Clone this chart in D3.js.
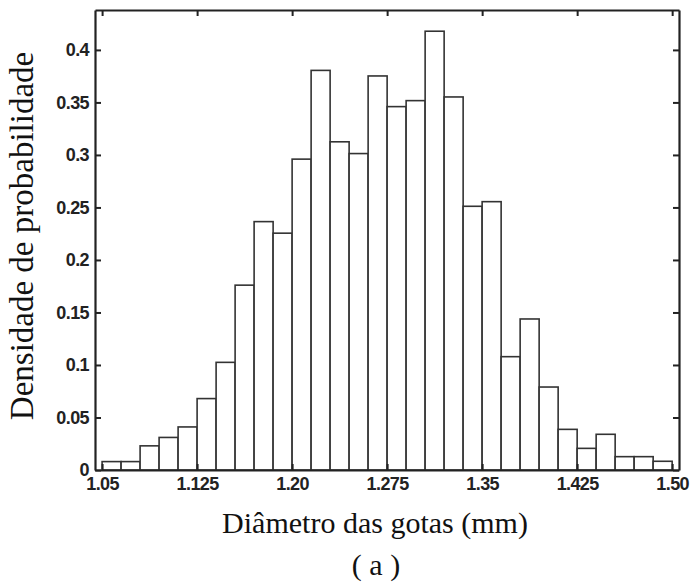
<!DOCTYPE html>
<html>
<head>
<meta charset="utf-8">
<script src="https://cdn.jsdelivr.net/npm/d3@7"></script>
<style>
  body { margin: 0; background: #fff; }
  .tick text { font-family: "Liberation Sans", Arial, sans-serif; font-weight: bold; font-size: 18px; letter-spacing: -0.6px; fill: #222; }
  .lbl { font-family: "Liberation Serif", "Times New Roman", serif; font-size: 30px; fill: #111; }
</style>
</head>
<body>
<div id="chart"></div>
<script>
// bins of 0.015 mm, starting at 1.05
const binStart = 1.05;
const binWidth = 0.015;
const density = [0.008, 0.008, 0.023, 0.031, 0.041, 0.068, 0.1025, 0.176, 0.2365, 0.2255,
                 0.296, 0.3805, 0.3125, 0.3013, 0.3752, 0.346, 0.3517, 0.4178, 0.3552, 0.2511,
                 0.2555, 0.1079, 0.1438, 0.079, 0.0387, 0.0206, 0.034, 0.0127, 0.0127, 0.0083];
const xTicks = [1.05, 1.125, 1.20, 1.275, 1.35, 1.425, 1.50];
const xTickLabels = ["1.05", "1.125", "1.20", "1.275", "1.35", "1.425", "1.50"];
const yTicks = [0, 0.05, 0.1, 0.15, 0.2, 0.25, 0.3, 0.35, 0.4];
const yTickLabels = ["0", "0.05", "0.1", "0.15", "0.2", "0.25", "0.3", "0.35", "0.4"];

const W = 692, H = 584;
const m = {left: 95, right: 13, top: 10, bottom: 114};

const svg = d3.select("#chart").append("svg")
  .attr("width", W).attr("height", H);

const x = d3.scaleLinear().domain([1.0444, 1.5054]).range([m.left, W - m.right]);
const y = d3.scaleLinear().domain([0, 0.438]).range([H - m.bottom, m.top]);

const bins = density.map((d, i) => ({x0: binStart + i * binWidth, x1: binStart + (i + 1) * binWidth, v: d}));

svg.selectAll("rect.bar")
  .data(bins)
  .enter()
  .append("rect")
  .attr("class", "bar")
  .attr("x", d => x(d.x0))
  .attr("y", d => y(d.v))
  .attr("width", d => x(d.x1) - x(d.x0))
  .attr("height", d => y(0) - y(d.v))
  .attr("fill", "#fff")
  .attr("stroke", "#333")
  .attr("stroke-width", 1.6);

// axes with inward ticks on all sides
const tl = 6;
const gBottom = svg.append("g")
  .attr("transform", "translate(0," + y(0) + ")")
  .call(d3.axisBottom(x).tickValues(xTicks).tickFormat((d, i) => xTickLabels[i]).tickSizeInner(-tl).tickSizeOuter(0).tickPadding(7));
const gLeft = svg.append("g")
  .attr("transform", "translate(" + m.left + ",0)")
  .call(d3.axisLeft(y).tickValues(yTicks).tickFormat((d, i) => yTickLabels[i]).tickSizeInner(-tl).tickSizeOuter(0).tickPadding(6));
const gTop = svg.append("g")
  .attr("transform", "translate(0," + m.top + ")")
  .call(d3.axisTop(x).tickValues(xTicks).tickFormat("").tickSizeInner(-tl).tickSizeOuter(0));
const gRight = svg.append("g")
  .attr("transform", "translate(" + (W - m.right) + ",0)")
  .call(d3.axisRight(y).tickValues(yTicks).tickFormat("").tickSizeInner(-tl).tickSizeOuter(0));

[gBottom, gLeft, gTop, gRight].forEach(g => {
  g.select(".domain").attr("stroke", "#222").attr("stroke-width", 2.2);
  g.selectAll(".tick line").attr("stroke", "#222").attr("stroke-width", 2);
});

svg.append("text")
  .attr("class", "lbl")
  .attr("x", 375)
  .attr("y", 533)
  .attr("text-anchor", "middle")
  .text("Diâmetro das gotas (mm)");

svg.append("text")
  .attr("class", "lbl")
  .attr("x", 376)
  .attr("y", 575)
  .attr("text-anchor", "middle")
  .text("( a )");

svg.append("text")
  .attr("class", "lbl")
  .style("font-size", "33px")
  .attr("transform", "translate(33," + 236 + ") rotate(-90)")
  .attr("text-anchor", "middle")
  .text("Densidade de probabilidade");
</script>
</body>
</html>
